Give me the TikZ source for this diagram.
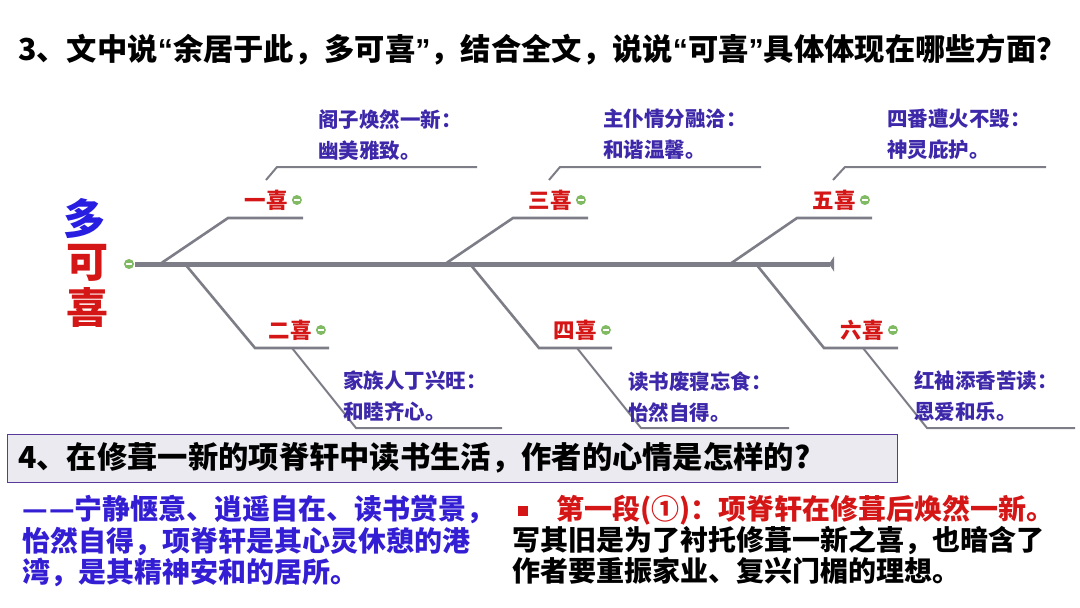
\documentclass[tikz,border=0pt]{standalone}
\usepackage{fontspec}
\setmainfont{Noto Sans CJK SC}
\newfontfamily\latinfont{Liberation Sans}
\usetikzlibrary{arrows.meta, positioning}
\definecolor{bonegray}{RGB}{125,125,135}
\definecolor{happyred}{RGB}{212,22,22}
\definecolor{notepurple}{RGB}{62,40,170}
\definecolor{answerblue}{RGB}{52,30,212}
\definecolor{boxborder}{RGB}{88,58,155}
\definecolor{boxfill}{RGB}{234,234,240}
\definecolor{knobgreen}{RGB}{128,186,98}
\definecolor{topicblue}{RGB}{40,30,225}
\newcommand{\openq}{{\latinfont\bfseries “}}
\newcommand{\closeq}{{\latinfont\bfseries ”}}

\begin{document}
\begin{tikzpicture}[
    x=1pt, y=-1pt,
    spine/.style={draw=bonegray, line width=5pt},
    bone/.style={draw=bonegray, line width=2.6pt},
    twig/.style={draw=bonegray, line width=2pt},
    happy/.style={font=\fontsize{21.5}{24}\selectfont\bfseries, text=happyred, inner sep=0pt},
    note/.style={font=\fontsize{20.5}{31}\selectfont\bfseries, text=notepurple, align=left, anchor=north west, inner sep=0pt},
    knob/.style={circle, fill=knobgreen, minimum size=10pt, inner sep=0pt,
        path picture={\draw[white, line width=1.4pt] ([xshift=-2.6pt]path picture bounding box.center) -- ([xshift=2.6pt]path picture bounding box.center);}},
    topic/.style={font=\fontsize{42}{44}\selectfont\bfseries, inner sep=0pt},
    question/.style={font=\fontsize{30.3}{32}\selectfont\bfseries, inner sep=0pt, anchor=west},
    answer/.style={font=\fontsize{28}{31.5}\selectfont\bfseries, align=left, inner sep=0pt, anchor=north west}
]
\useasboundingbox (0,0) rectangle (1080,608);

% title
\node[question] (q3) at (18,50) {3、文中说\openq 余居于此，多可喜\closeq ，结合全文，说说\openq 可喜\closeq 具体体现在哪些方面？};

% head of the fishbone
\node[topic, text=topicblue] (duo) at (84,219) {多};
\node[topic, text=happyred] (ke) at (87,263) {可};
\node[topic, text=happyred] (xi) at (87,307) {喜};
\node[knob] (rootknob) at (129,264) {};
\coordinate (spines) at (135,264);
\coordinate (spinee) at (834,264);
\draw[spine, -{Triangle[reversed, length=5pt, width=15pt]}] (spines) -- (spinee);

% upper bones
\coordinate (b1s) at (160,264); \coordinate (b1e) at (228,218); \coordinate (b1t) at (303,218);
\coordinate (b3s) at (445,264); \coordinate (b3e) at (513,218); \coordinate (b3t) at (588,218);
\coordinate (b5s) at (730,264); \coordinate (b5e) at (797,218); \coordinate (b5t) at (872,218);
\draw[bone] (b1s) -- (b1e) -- (b1t);
\draw[bone] (b3s) -- (b3e) -- (b3t);
\draw[bone] (b5s) -- (b5e) -- (b5t);

\node[happy] (yi) at (266,200) {一喜};
\node[happy] (san) at (550,200) {三喜};
\node[happy] (wu) at (834,200) {五喜};
\node[knob, right=4pt of yi] (yiknob) {};
\node[knob, right=4pt of san] (sanknob) {};
\node[knob, right=4pt of wu] (wuknob) {};

\coordinate (t1s) at (266,180); \coordinate (t1e) at (277,167); \coordinate (t1t) at (477,167);
\coordinate (t3s) at (549,180); \coordinate (t3e) at (560,167); \coordinate (t3t) at (761,167);
\coordinate (t5s) at (833,180); \coordinate (t5e) at (845,167); \coordinate (t5t) at (1046,167);
\draw[twig] (t1s) -- (t1e) -- (t1t);
\draw[twig] (t3s) -- (t3e) -- (t3t);
\draw[twig] (t5s) -- (t5e) -- (t5t);

\node[note] (n1) at (318,109) {阁子焕然一新：\\幽美雅致。};
\node[note] (n3) at (603,109) {主仆情分融洽：\\和谐温馨。};
\node[note] (n5) at (887,109) {四番遭火不毁：\\神灵庇护。};

% lower bones
\coordinate (b2s) at (185,264); \coordinate (b2e) at (255,348); \coordinate (b2t) at (329,348);
\coordinate (b4s) at (470,264); \coordinate (b4e) at (539,348); \coordinate (b4t) at (612,348);
\coordinate (b6s) at (756,264); \coordinate (b6e) at (824,348); \coordinate (b6t) at (898,348);
\draw[bone] (b2s) -- (b2e) -- (b2t);
\draw[bone] (b4s) -- (b4e) -- (b4t);
\draw[bone] (b6s) -- (b6e) -- (b6t);

\node[happy] (er) at (290,330) {二喜};
\node[happy] (si) at (575,330) {四喜};
\node[happy] (liu) at (862,330) {六喜};
\node[knob, right=4pt of er] (erknob) {};
\node[knob, right=4pt of si] (siknob) {};
\node[knob, right=4pt of liu] (liuknob) {};

\coordinate (t2s) at (292,348); \coordinate (t2e) at (356,428); \coordinate (t2t) at (502,428);
\coordinate (t4s) at (577,348); \coordinate (t4e) at (641,428); \coordinate (t4t) at (789,428);
\coordinate (t6s) at (863,348); \coordinate (t6e) at (927,428); \coordinate (t6t) at (1075,428);
\draw[twig] (t2s) -- (t2e) -- (t2t);
\draw[twig] (t4s) -- (t4e) -- (t4t);
\draw[twig] (t6s) -- (t6e) -- (t6t);

\node[note] (n2) at (343,371) {家族人丁兴旺：\\和睦齐心。};
\node[note] (n4) at (628,371) {读书废寝忘食：\\怡然自得。};
\node[note] (n6) at (914,371) {红袖添香苦读：\\恩爱和乐。};

% question 4 and answers
\node[draw=boxborder, fill=boxfill, line width=1.4pt, minimum width=890pt, minimum height=48pt, anchor=north west, inner sep=0pt] (q4box) at (7,434) {};
\node[question] (q4) at (18,458) {4、在修葺一新的项脊轩中读书生活，作者的心情是怎样的?};

\node[answer, text=answerblue] (mood) at (22,495) {—\kern1.5pt—宁静惬意、逍遥自在、读书赏景，\\怡然自得，项脊轩是其心灵休憩的港\\湾，是其精神安和的居所。};

\node[fill=happyred, minimum size=9.5pt, inner sep=0pt] (dot) at (523,511) {};
\node[answer, text=happyred] (para) at (556,495) {第一段(①)：项脊轩在修葺后焕然一新。};
\node[answer, text=black, below=0pt of para.south west, anchor=north west, xshift=-44pt] (meaning) {写其旧是为了衬托修葺一新之喜，也暗含了\\作者要重振家业、复兴门楣的理想。};
\end{tikzpicture}
\end{document}
